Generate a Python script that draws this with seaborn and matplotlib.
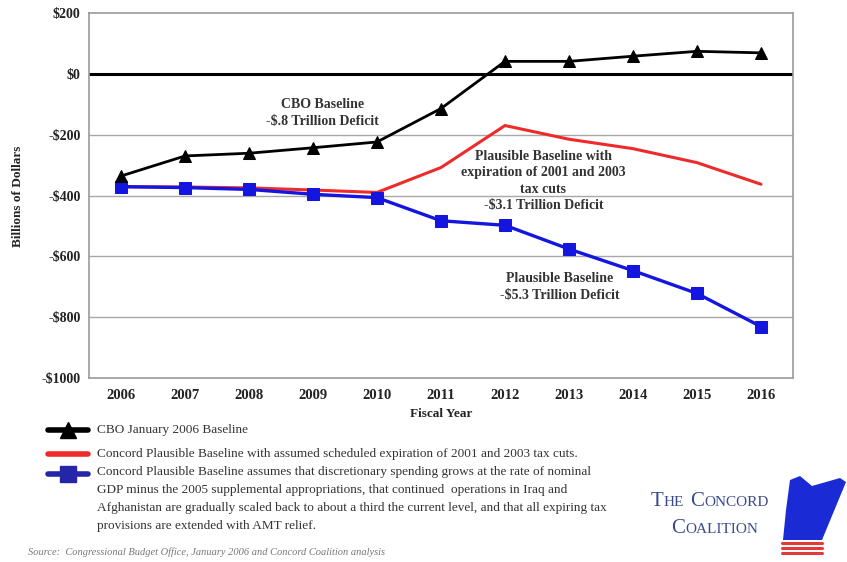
import matplotlib
matplotlib.use("Agg")
import matplotlib.pyplot as plt
import matplotlib.patches as mpatches
from matplotlib.lines import Line2D
import numpy as np
import pandas as pd
import seaborn as sns

# Fiscal years and projected budget balance (billions of dollars)
years = [2006, 2007, 2008, 2009, 2010, 2011, 2012, 2013, 2014, 2015, 2016]
cbo_baseline = [-336, -270, -261, -243, -224, -114, 41, 41, 58, 74, 69]
plausible_expiration = [-371, -372, -375, -382, -390, -308, -170, -215, -246, -292, -363]
plausible_baseline = [-371, -374, -380, -396, -407, -483, -498, -576, -647, -722, -831]

y_ticks = [200, 0, -200, -400, -600, -800, -1000]
y_tick_labels = ["$200", "$0", "-$200", "-$400", "-$600", "-$800", "-$1000"]

legend_labels = [
    "CBO January 2006 Baseline",
    "Concord Plausible Baseline with assumed scheduled expiration of 2001 and 2003 tax cuts.",
    "Concord Plausible Baseline assumes that discretionary spending grows at the rate of nominal\n"
    "GDP minus the 2005 supplemental appropriations, that continued  operations in Iraq and\n"
    "Afghanistan are gradually scaled back to about a third the current level, and that all expiring tax\n"
    "provisions are extended with AMT relief.",
]

sns.set_theme(style="white")
plt.rcParams["font.family"] = ["Liberation Serif", "DejaVu Serif"]
plt.rcParams["text.parse_math"] = False

df = pd.DataFrame({
    "year": years * 3,
    "value": cbo_baseline + plausible_expiration + plausible_baseline,
    "series": ["cbo"] * len(years) + ["expire"] * len(years) + ["plausible"] * len(years),
})

fig = plt.figure(figsize=(8.47, 5.62), dpi=100)
ax = fig.add_axes([89 / 847, 1 - 378 / 562, (793 - 89) / 847, (378 - 13) / 562])

ax.set_xlim(2005.5, 2016.5)
ax.set_ylim(-1000, 200)

# horizontal grid and the zero line
for t in y_ticks:
    if t in (200, -1000):
        continue
    if t == 0:
        ax.axhline(t, color="black", lw=2.2, zorder=1)
    else:
        ax.axhline(t, color="#a8a8a8", lw=1.0, zorder=1)

sns.lineplot(data=df[df.series == "expire"], x="year", y="value", ax=ax,
             color="#ee2a2a", lw=2.2, zorder=3)
sns.lineplot(data=df[df.series == "plausible"], x="year", y="value", ax=ax,
             color="#1515e0", lw=2.4, marker="s", markersize=9,
             markeredgecolor="#1515e0", zorder=4)
sns.lineplot(data=df[df.series == "cbo"], x="year", y="value", ax=ax,
             color="black", lw=2.0, marker="^", markersize=9,
             markeredgecolor="black", zorder=5)

ax.set_xticks(years)
ax.set_xticklabels([str(y) for y in years], fontsize=10.5, fontweight="bold", color="#222222")
ax.set_yticks(y_ticks)
ax.set_yticklabels(y_tick_labels, fontsize=10, fontweight="bold", color="#222222")
ax.tick_params(axis="x", length=0, pad=8)
ax.tick_params(axis="y", length=0, pad=6)
ax.set_xlabel("")
ax.set_ylabel("")
for s in ax.spines.values():
    s.set_color("#9a9a9a")
    s.set_linewidth(1.2)

fig.text(441 / 847, 1 - 414 / 562, "Fiscal Year", ha="center", va="center",
         fontsize=9.5, fontweight="bold", color="#222222")
fig.text(18 / 847, 1 - 196 / 562, "Billions of Dollars", ha="center", va="center",
         rotation=90, fontsize=9.5, fontweight="bold", color="#222222")

# series annotations
ax.text(2009.15, -128, "CBO Baseline\n-$.8 Trillion Deficit", ha="center", va="center",
        fontsize=10, fontweight="bold", color="#333333", linespacing=1.35)
ax.text(2012.6, -352, "Plausible Baseline with\nexpiration of 2001 and 2003\ntax cuts\n-$3.1 Trillion Deficit",
        ha="center", va="center", fontsize=10, fontweight="bold", color="#333333", linespacing=1.35)
ax.text(2012.85, -700, "Plausible Baseline\n-$5.3 Trillion Deficit", ha="center", va="center",
        fontsize=10, fontweight="bold", color="#333333", linespacing=1.35)


def fx(px):
    return px / 847


def fy(py):
    return 1 - py / 562


# legend block below the chart
rows = [(430, "black", "^", "black"), (454, "#ee2a2a", None, None), (474, "#2525a8", "s", "#2525a8")]
for (py, col, mk, mcol), label in zip(rows, legend_labels):
    fig.add_artist(Line2D([fx(48), fx(88)], [fy(py), fy(py)], color=col, lw=4,
                          transform=fig.transFigure))
    if mk:
        fig.add_artist(Line2D([fx(68)], [fy(py)], marker=mk, markersize=11, color=mcol,
                              markeredgecolor=mcol, transform=fig.transFigure))
    if "\n" in label:
        fig.text(fx(97), fy(py - 8), label, ha="left", va="top", fontsize=9.5,
                 color="#333333", linespacing=1.65)
    else:
        fig.text(fx(97), fy(py), label, ha="left", va="center", fontsize=9.5,
                 color="#333333")

fig.text(fx(28), fy(552), "Source:  Congressional Budget Office, January 2006 and Concord Coalition analysis",
         ha="left", va="center", fontsize=7.5, style="italic", color="#777777")

# Concord Coalition mark, set in small capitals
renderer = fig.canvas.get_renderer()


def small_caps(words, x0, py, big=15, small=11, color="#3b4a8c"):
    x = x0
    for word in words:
        for piece, size in ((word[0], big), (word[1:], small)):
            t = fig.text(fx(x), fy(py), piece, ha="left", va="baseline",
                         fontsize=size, color=color)
            x += t.get_window_extent(renderer).width
        x += 6


small_caps(["THE", "CONCORD"], 651, 506)
small_caps(["COALITION"], 671, 533)

emblem = mpatches.Polygon([[fx(790), fy(480)], [fx(800), fy(476)], [fx(812), fy(486)],
                           [fx(840), fy(478)], [fx(846), fy(482)], [fx(822), fy(540)],
                           [fx(783), fy(540)], [fx(786), fy(510)]],
                          closed=True, facecolor="#1a2bd6", edgecolor="none",
                          transform=fig.transFigure)
fig.add_artist(emblem)
for py in (543, 548, 553):
    fig.add_artist(Line2D([fx(782), fx(822)], [fy(py), fy(py)], color="#e23a3a", lw=2.2,
                          transform=fig.transFigure))

fig.savefig("out.png", dpi=100, facecolor="white")
